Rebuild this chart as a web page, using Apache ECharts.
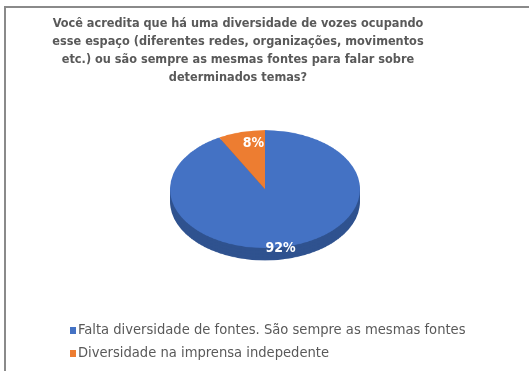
<!DOCTYPE html>
<html>
<head>
<meta charset="utf-8">
<script src="https://cdn.jsdelivr.net/npm/echarts@6/dist/echarts.min.js"></script>
<style>
  html, body { margin: 0; padding: 0; background: #ffffff; }
  #wrap { position: relative; width: 529px; height: 371px; overflow: hidden; background: #ffffff; }
  #frame { position: absolute; left: 4px; top: 6px; width: 600px; height: 400px;
           border-top: 2px solid #8a8a8a; border-left: 2px solid #8a8a8a; }
  #pie { position: absolute; left: 0; top: 0; width: 529px; height: 620px;
         transform: scaleY(0.62); transform-origin: 0 0; }
  #main { position: absolute; left: 0; top: 0; width: 529px; height: 371px; }
</style>
</head>
<body>
<div id="wrap">
  <div id="frame"></div>
  <div id="pie"></div>
  <div id="main"></div>
</div>
<script>
// ---- data ----
const titleText = 'Você acredita que há uma diversidade de vozes ocupando\nesse espaço (diferentes redes, organizações, movimentos\netc.) ou são sempre as mesmas fontes para falar sobre\ndeterminados temas?';
const categories = ['Falta diversidade de fontes. São sempre as mesmas fontes', 'Diversidade na imprensa indepedente'];
const values = [92, 8];
const colors = ['#4472C4', '#ED7D31'];
const sideColors = ['#2F528F', '#AE5A21'];

const FONT = "'Liberation Sans Narrow', 'DejaVu Sans Condensed', 'Liberation Sans', sans-serif";

// ---- squashed (3D-looking) pie ----
const pieChart = echarts.init(document.getElementById('pie'), null, { renderer: 'canvas' });
const pieData = categories.map((c, i) => ({ name: c, value: values[i], itemStyle: { color: colors[i] } }));
const sideData = categories.map((c, i) => ({ name: c, value: values[i], itemStyle: { color: sideColors[i] } }));
const baseCenter = [265, 305];
const rimOffsets = [20, 15, 10, 5];
const pieSeries = rimOffsets.map(off => ({
  type: 'pie', silent: true, animation: false,
  center: [baseCenter[0], baseCenter[1] + off], radius: 95,
  startAngle: 90, label: { show: false }, labelLine: { show: false },
  data: sideData
}));
pieSeries.push({
  type: 'pie', silent: true, animation: false,
  center: baseCenter, radius: 95, startAngle: 90,
  label: { show: false }, labelLine: { show: false },
  itemStyle: { borderWidth: 0 },
  data: pieData
});
pieChart.setOption({ animation: false, series: pieSeries });

// ---- main layer: title, legend, labels ----
const main = echarts.init(document.getElementById('main'), null, { renderer: 'canvas' });
main.setOption({
  animation: false,
  backgroundColor: 'transparent',
  title: {
    text: titleText,
    left: 233, top: 10,
    textAlign: 'center',
    textStyle: { fontFamily: FONT, fontSize: 12.6, fontWeight: 'bold', color: '#595959', lineHeight: 18 }
  },
  legend: {
    orient: 'vertical', left: 70, top: 323, padding: 0,
    itemWidth: 6, itemHeight: 7, itemGap: 8,
    icon: 'rect',
    textStyle: { fontFamily: FONT, fontSize: 14.6, color: '#595959', padding: [0, 0, 0, -3] },
    data: categories.map((c, i) => ({ name: c, itemStyle: { color: colors[i] } }))
  },
  series: [{
    type: 'pie', silent: true, animation: false,
    center: [267, 196], radius: 103, startAngle: 90,
    label: {
      show: true, position: 'inside',
      formatter: p => p.value + '%',
      fontFamily: FONT, fontSize: 14, fontWeight: 'bold', color: '#ffffff'
    },
    labelLine: { show: false },
    data: categories.map((c, i) => ({ name: c, value: values[i], itemStyle: { color: 'rgba(0,0,0,0)' } }))
  }]
});
</script>
</body>
</html>
